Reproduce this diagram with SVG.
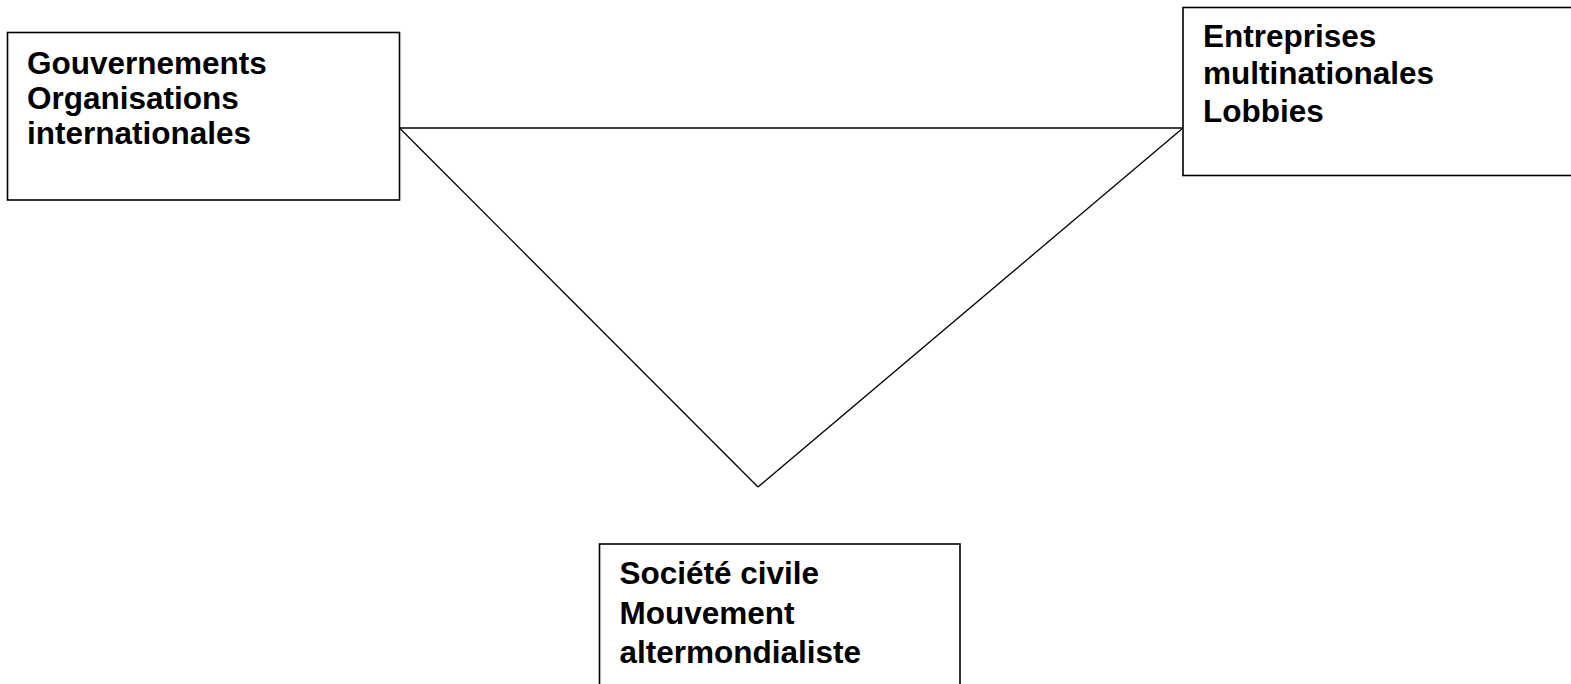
<svg xmlns="http://www.w3.org/2000/svg" width="1571" height="684" viewBox="0 0 1571 684">
<style>
.box{fill:#fff;stroke:#000;stroke-width:1.6}
.lbl{font-family:"Liberation Sans",Arial,sans-serif;font-weight:bold;font-size:31.5px;fill:#000}
.con{fill:none;stroke:#000;stroke-width:1.3}
</style>
<rect width="1571" height="684" fill="#fff"/>
<g id="connectors">
<line class="con" x1="399.5" y1="128" x2="1183" y2="128"/>
<line class="con" x1="399.5" y1="128" x2="758" y2="487"/>
<line class="con" x1="1183" y1="128" x2="758" y2="487"/>
</g>
<g id="gouvernements">
<rect class="box" x="7.5" y="32.5" width="392" height="167.5"/>
<text class="lbl" x="27" y="73.5">Gouvernements</text>
<text class="lbl" x="27" y="108.5">Organisations</text>
<text class="lbl" x="27" y="143.5">internationales</text>
</g>
<g id="entreprises">
<rect class="box" x="1183" y="7.5" width="400" height="168"/>
<text class="lbl" x="1203" y="46.5">Entreprises</text>
<text class="lbl" x="1203" y="84">multinationales</text>
<text class="lbl" x="1203" y="121.5">Lobbies</text>
</g>
<g id="societe">
<rect class="box" x="599.5" y="544" width="360.5" height="160"/>
<text class="lbl" x="619.5" y="584">Société civile</text>
<text class="lbl" x="619.5" y="623.5">Mouvement</text>
<text class="lbl" x="619.5" y="662.5">altermondialiste</text>
</g>
</svg>
